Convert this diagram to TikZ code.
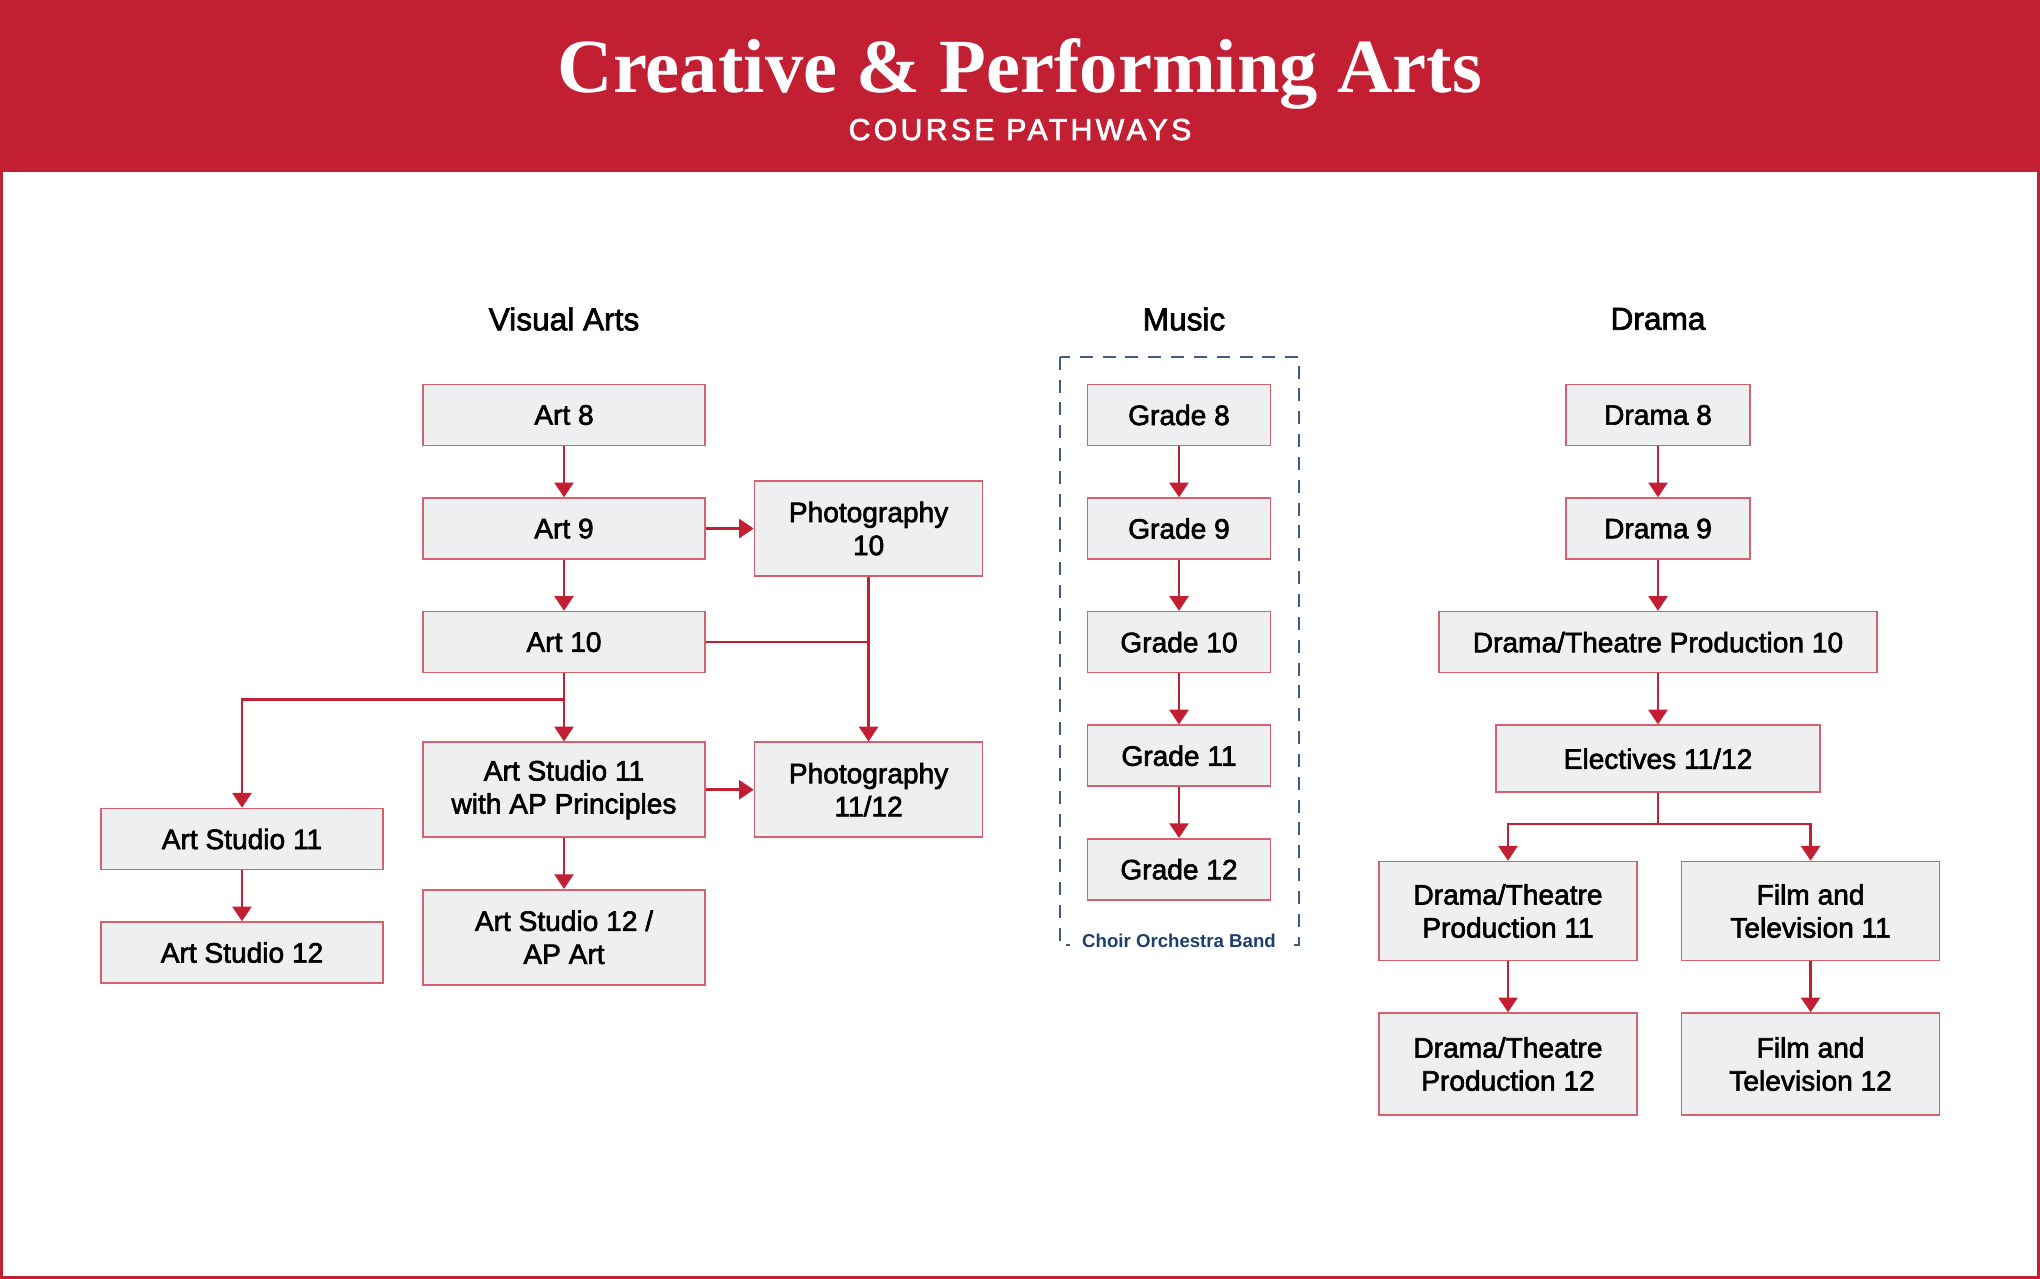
\documentclass[tikz,border=0pt]{standalone}
\usepackage{fontspec}
\setmainfont{Liberation Sans}
\newfontfamily\titlefont{Liberation Serif}
\newfontfamily\boxfont{Liberation Sans}[FakeBold=2.2]
\usetikzlibrary{arrows.meta,positioning,calc}

\definecolor{artsred}{RGB}{194,31,51}
\definecolor{boxline}{RGB}{214,96,110}
\definecolor{boxfill}{RGB}{238,239,241}
\definecolor{bandnavy}{RGB}{30,62,110}

\begin{document}
\begin{tikzpicture}[
  font=\boxfont,
  >={Triangle[length=4.2pt,width=5.4pt]},
  course/.style={rectangle, draw=boxline, fill=boxfill, line width=0.45pt,
                 minimum height=0.61cm, inner sep=2pt, align=center,
                 font=\boxfont\fontsize{8}{9.4}\selectfont},
  tall/.style={course, minimum height=0.95cm},
  link/.style={->, line width=0.75pt, draw=artsred},
  joint/.style={line width=0.75pt, draw=artsred},
  heading/.style={font=\boxfont\fontsize{9}{10}\selectfont},
  ensemble/.style={draw=bandnavy!85, dash pattern=on 3.7pt off 2.8pt, line width=0.6pt},
]

\useasboundingbox (0,0) rectangle (20.4,-12.79);
\fill[artsred] (0,0) rectangle (20.4,-1.72);
\draw[artsred, line width=0.9pt] (0.016,-1.7) rectangle (20.384,-12.774);

\node[font=\titlefont\bfseries\fontsize{21.8}{24}\selectfont, text=white, anchor=base] (title) at (10.2,-0.93) {Creative \& Performing Arts};
\node[font=\boxfont\fontsize{8.6}{10}\selectfont\addfontfeature{LetterSpace=11}, text=white, anchor=base] (subtitle) at (10.2,-1.40) {COURSE PATHWAYS};

% column heads
\node[heading] (visual) at (5.64,-3.19) {Visual Arts};
\node[heading] (music)  at (11.84,-3.19) {Music};
\node[heading] (drama)  at (16.58,-3.19) {Drama};

% visual arts
\node[course, minimum width=2.82cm] (art8) at (5.64,-4.15) {Art 8};
\node[course, minimum width=2.82cm, below=0.51cm of art8]  (art9)  {Art 9};
\node[course, minimum width=2.82cm, below=0.51cm of art9]  (art10) {Art 10};
\node[tall, minimum width=2.28cm, right=0.48cm of art9]    (photo10) {Photography\\10};
\node[tall, minimum width=2.82cm, below=0.68cm of art10]   (studioap) {Art Studio 11\\with AP Principles};
\node[tall, minimum width=2.28cm, right=0.48cm of studioap] (photo1112) {Photography\\11/12};
\node[tall, minimum width=2.82cm, below=0.51cm of studioap] (studio12ap) {Art Studio 12 /\\AP Art};
\node[course, minimum width=2.82cm] (studio11) at (2.42,-8.39) {Art Studio 11};
\node[course, minimum width=2.82cm, below=0.51cm of studio11] (studio12) {Art Studio 12};

\coordinate (artfork) at ($(art10.south)+(0,-0.26)$);

\draw[link] (art8) -- (art9);
\draw[link] (art9) -- (art10);
\draw[link] (art9) -- (photo10);
\draw[link] (photo10) -- (photo1112);
\draw[joint] (art10.east) -- (art10.east -| photo10.south);
\draw[link] (art10) -- (studioap);
\draw[link] (artfork) -| (studio11.north);
\draw[link] (studioap) -- (photo1112);
\draw[link] (studioap) -- (studio12ap);
\draw[link] (studio11) -- (studio12);

% music
\node[course, minimum width=1.83cm] (grade8) at (11.79,-4.15) {Grade 8};
\node[course, minimum width=1.83cm, below=0.51cm of grade8]  (grade9)  {Grade 9};
\node[course, minimum width=1.83cm, below=0.51cm of grade9]  (grade10) {Grade 10};
\node[course, minimum width=1.83cm, below=0.51cm of grade10] (grade11) {Grade 11};
\node[course, minimum width=1.83cm, below=0.51cm of grade11] (grade12) {Grade 12};

\draw[link] (grade8) -- (grade9);
\draw[link] (grade9) -- (grade10);
\draw[link] (grade10) -- (grade11);
\draw[link] (grade11) -- (grade12);

\draw[ensemble] ($(grade8.north west)+(-0.27,0.27)$) rectangle ($(grade12.south east)+(0.28,-0.44)$);
\node[font=\normalfont\bfseries\fontsize{5.3}{6}\selectfont, text=bandnavy, fill=white, inner xsep=3.6pt, inner ysep=1pt]
  (bands) at ($(grade12.south)+(0,-0.40)$) {Choir Orchestra Band};

% drama
\node[course, minimum width=1.84cm] (drama8) at (16.58,-4.15) {Drama 8};
\node[course, minimum width=1.84cm, below=0.51cm of drama8] (drama9) {Drama 9};
\node[course, minimum width=4.38cm, below=0.51cm of drama9] (dtp10) {Drama/Theatre Production 10};
\node[course, minimum width=3.24cm, minimum height=0.67cm, below=0.51cm of dtp10] (electives) {Electives 11/12};
\node[course, minimum width=2.58cm, minimum height=0.99cm] (dtp11) at (15.08,-9.11) {Drama/Theatre\\Production 11};
\node[course, minimum width=2.58cm, minimum height=0.99cm, right=0.43cm of dtp11] (ftv11) {Film and\\Television 11};
\node[course, minimum width=2.58cm, minimum height=1.02cm, below=0.51cm of dtp11] (dtp12) {Drama/Theatre\\Production 12};
\node[course, minimum width=2.58cm, minimum height=1.02cm, below=0.51cm of ftv11] (ftv12) {Film and\\Television 12};

\coordinate (dramafork) at ($(electives.south)+(0,-0.31)$);

\draw[link] (drama8) -- (drama9);
\draw[link] (drama9) -- (dtp10);
\draw[link] (dtp10) -- (electives);
\draw[joint] (electives) -- (dramafork);
\draw[link] (dramafork) -| (dtp11.north);
\draw[link] (dramafork) -| (ftv11.north);
\draw[link] (dtp11) -- (dtp12);
\draw[link] (ftv11) -- (ftv12);

\end{tikzpicture}
\end{document}
